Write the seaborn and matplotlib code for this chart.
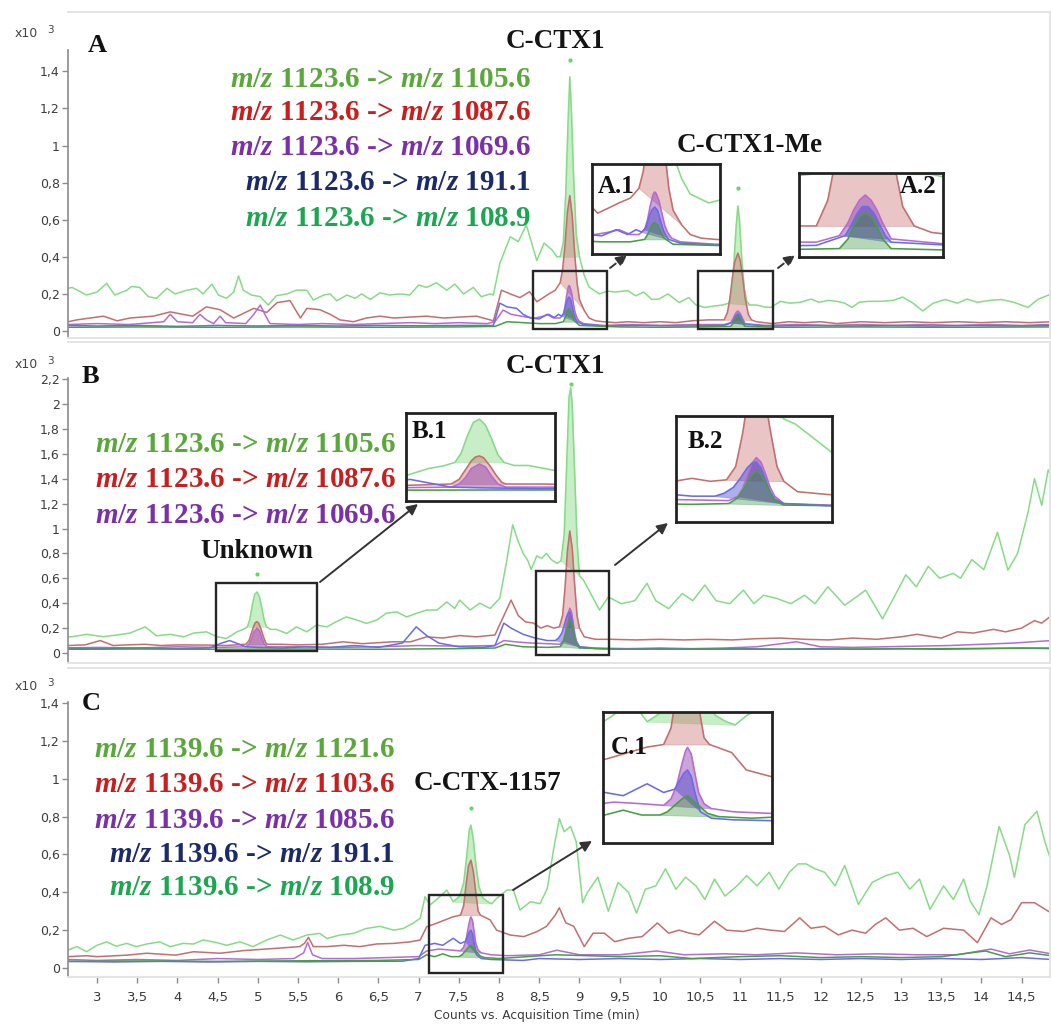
import numpy as np
import matplotlib
matplotlib.use("Agg")
import matplotlib.pyplot as plt
from matplotlib.patches import Rectangle
import seaborn as sns

# ----------------------------------------------------------------- data
# (time [min], counts x10^3)
A_lg = [(2.64,0.23),(2.69,0.235),(2.87,0.194),(3.00,0.21),(3.12,0.257),(3.22,0.194),(3.37,0.22),(3.43,0.24),
        (3.53,0.235),(3.64,0.185),(3.74,0.176),(3.87,0.23),(3.97,0.20),(4.12,0.22),(4.24,0.23),(4.32,0.20),
        (4.43,0.253),(4.51,0.194),(4.61,0.176),(4.70,0.21),(4.76,0.297),(4.82,0.22),(4.92,0.194),(5.03,0.185),
        (5.13,0.14),(5.23,0.19),(5.36,0.20),(5.48,0.22),(5.61,0.22),(5.69,0.167),(5.82,0.194),(5.90,0.20),
        (5.98,0.163),(6.11,0.194),(6.21,0.176),(6.29,0.20),(6.40,0.17),(6.52,0.206),(6.64,0.194),(6.77,0.20),
        (6.89,0.194),(7.00,0.248),(7.10,0.235),(7.22,0.26),(7.35,0.22),(7.45,0.253),(7.56,0.20),(7.68,0.235),
        (7.78,0.185),(7.89,0.20),(7.93,0.194),(8.01,0.365),(8.14,0.508),(8.24,0.482),(8.34,0.571),(8.47,0.38),
        (8.56,0.474),(8.66,0.437),(8.72,0.40),(8.76,0.40),(8.80,0.48),(8.83,0.75),(8.86,1.15),(8.88,1.37),
        (8.90,1.18),(8.93,0.80),(8.96,0.52),(9.00,0.40),(9.06,0.30),(9.12,0.237),(9.25,0.20),(9.35,0.215),
        (9.45,0.21),(9.60,0.218),(9.70,0.19),(9.80,0.21),(9.90,0.17),(9.99,0.172),(10.10,0.20),(10.24,0.154),
        (10.36,0.18),(10.45,0.14),(10.56,0.127),(10.68,0.135),(10.78,0.14),(10.86,0.15),(10.89,0.21),(10.92,0.36),
        (10.95,0.57),(10.97,0.674),(10.99,0.60),(11.02,0.38),(11.05,0.23),(11.08,0.16),(11.12,0.14),(11.20,0.14),
        (11.30,0.13),(11.38,0.127),(11.50,0.16),(11.62,0.15),(11.75,0.155),(11.88,0.172),(11.98,0.155),(12.10,0.165),
        (12.20,0.16),(12.30,0.15),(12.39,0.127),(12.48,0.155),(12.60,0.16),(12.75,0.16),(12.90,0.165),(13.02,0.183),
        (13.15,0.15),(13.27,0.108),(13.40,0.15),(13.55,0.17),(13.70,0.15),(13.82,0.172),(13.95,0.155),(14.10,0.165),
        (14.25,0.17),(14.40,0.155),(14.58,0.127),(14.70,0.17),(14.87,0.20)]
A_rd = [(2.64,0.05),(2.75,0.06),(3.08,0.08),(3.25,0.055),(3.41,0.07),(3.70,0.08),(3.91,0.103),(4.19,0.08),
        (4.36,0.13),(4.53,0.115),(4.70,0.07),(4.95,0.122),(5.11,0.10),(5.24,0.153),(5.40,0.164),(5.53,0.07),
        (5.61,0.122),(5.77,0.115),(5.90,0.09),(6.02,0.06),(6.19,0.05),(6.35,0.07),(6.52,0.08),(6.69,0.07),
        (6.89,0.075),(7.10,0.08),(7.31,0.07),(7.51,0.075),(7.72,0.08),(7.93,0.055),(8.03,0.22),(8.14,0.20),
        (8.26,0.18),(8.38,0.212),(8.47,0.158),(8.55,0.18),(8.62,0.20),(8.70,0.22),(8.76,0.26),(8.79,0.33),
        (8.82,0.46),(8.85,0.64),(8.88,0.73),(8.91,0.62),(8.94,0.42),(8.97,0.26),(9.00,0.17),(9.06,0.11),
        (9.12,0.07),(9.20,0.055),(9.30,0.05),(9.45,0.045),(9.60,0.05),(9.80,0.045),(10.00,0.05),(10.20,0.045),
        (10.40,0.055),(10.60,0.06),(10.75,0.06),(10.80,0.06),(10.84,0.10),(10.87,0.17),(10.90,0.28),(10.93,0.37),
        (10.97,0.42),(11.00,0.38),(11.03,0.29),(11.06,0.18),(11.10,0.09),(11.14,0.06),(11.20,0.05),(11.40,0.04),
        (11.60,0.05),(11.80,0.045),(12.00,0.05),(12.20,0.04),(12.50,0.05),(12.80,0.045),(13.10,0.05),(13.40,0.045),
        (13.70,0.05),(14.00,0.045),(14.30,0.05),(14.60,0.045),(14.87,0.05)]
A_pu = [(2.64,0.035),(3.0,0.04),(3.4,0.035),(3.83,0.05),(3.91,0.09),(4.0,0.05),(4.19,0.045),(4.28,0.09),
        (4.36,0.06),(4.45,0.04),(4.53,0.08),(4.60,0.045),(4.85,0.04),(4.95,0.09),(5.03,0.14),(5.10,0.08),
        (5.15,0.04),(5.5,0.035),(5.8,0.04),(6.2,0.035),(6.5,0.04),(6.9,0.045),(7.2,0.04),(7.5,0.045),
        (7.85,0.04),(7.95,0.05),(8.05,0.113),(8.15,0.09),(8.34,0.075),(8.45,0.07),(8.55,0.08),(8.62,0.09),
        (8.70,0.07),(8.76,0.07),(8.80,0.09),(8.82,0.13),(8.84,0.19),(8.86,0.235),(8.87,0.245),(8.88,0.24),
        (8.90,0.21),(8.92,0.16),(8.94,0.11),(8.96,0.08),(8.99,0.055),(9.05,0.04),(9.3,0.03),(9.6,0.035),
        (10.0,0.03),(10.4,0.035),(10.8,0.035),(10.88,0.045),(10.91,0.065),(10.93,0.085),(10.95,0.10),
        (10.97,0.108),(10.99,0.10),(11.01,0.085),(11.03,0.065),(11.06,0.04),(11.3,0.03),(11.7,0.035),
        (12.1,0.03),(12.5,0.035),(12.9,0.03),(13.3,0.035),(13.7,0.03),(14.1,0.035),(14.5,0.03),(14.87,0.035)]
A_bl = [(2.64,0.03),(3.0,0.027),(3.5,0.03),(4.0,0.025),(4.5,0.03),(5.0,0.027),(5.5,0.03),(6.0,0.027),
        (6.5,0.03),(7.0,0.028),(7.5,0.03),(7.93,0.03),(8.01,0.15),(8.10,0.13),(8.22,0.122),(8.30,0.09),
        (8.39,0.07),(8.50,0.065),(8.60,0.09),(8.68,0.07),(8.74,0.09),(8.78,0.08),(8.81,0.10),(8.83,0.14),
        (8.85,0.17),(8.87,0.183),(8.89,0.17),(8.91,0.13),(8.93,0.09),(8.95,0.065),(8.97,0.05),(9.05,0.035),
        (9.3,0.027),(9.8,0.03),(10.3,0.027),(10.8,0.03),(10.90,0.045),(10.92,0.06),(10.94,0.078),(10.96,0.09),
        (10.98,0.09),(11.00,0.08),(11.02,0.062),(11.04,0.045),(11.06,0.035),(11.4,0.027),(11.9,0.03),
        (12.4,0.027),(12.9,0.03),(13.4,0.027),(13.9,0.03),(14.4,0.027),(14.87,0.03)]
A_dg = [(2.64,0.02),(3.5,0.022),(4.5,0.02),(5.5,0.022),(6.5,0.02),(7.5,0.022),(7.95,0.025),(8.10,0.05),
        (8.30,0.045),(8.50,0.04),(8.70,0.04),(8.80,0.05),(8.83,0.08),(8.85,0.11),(8.87,0.12),(8.89,0.11),
        (8.91,0.085),(8.93,0.06),(8.95,0.05),(9.00,0.03),(9.5,0.022),(10.0,0.02),(10.5,0.022),(10.88,0.025),
        (10.91,0.04),(10.93,0.06),(10.95,0.075),(10.97,0.08),(10.99,0.075),(11.01,0.06),(11.03,0.04),
        (11.06,0.025),(11.5,0.02),(12.5,0.022),(13.5,0.02),(14.87,0.022)]

B_lg = [(2.64,0.13),(2.69,0.131),(2.87,0.15),(3.08,0.131),(3.25,0.145),(3.41,0.16),(3.60,0.21),(3.74,0.138),
        (3.91,0.15),(4.08,0.13),(4.20,0.16),(4.36,0.17),(4.49,0.131),(4.61,0.117),(4.74,0.17),(4.82,0.19),
        (4.87,0.21),(4.90,0.27),(4.93,0.38),(4.96,0.47),(4.99,0.49),(5.02,0.45),(5.05,0.36),(5.08,0.26),
        (5.11,0.21),(5.16,0.19),(5.23,0.19),(5.36,0.157),(5.48,0.21),(5.61,0.17),(5.73,0.225),(5.86,0.21),
        (5.98,0.253),(6.10,0.29),(6.23,0.265),(6.35,0.238),(6.48,0.265),(6.60,0.32),(6.73,0.33),(6.85,0.29),
        (6.98,0.32),(7.10,0.345),(7.23,0.345),(7.35,0.41),(7.45,0.358),(7.51,0.425),(7.64,0.345),(7.76,0.40),
        (7.89,0.358),(8.01,0.44),(8.09,0.72),(8.17,1.03),(8.23,0.91),(8.30,0.80),(8.36,0.74),(8.40,0.67),
        (8.47,0.78),(8.53,0.76),(8.59,0.80),(8.65,0.75),(8.72,0.72),(8.77,0.74),(8.81,0.95),(8.84,1.5),
        (8.87,2.05),(8.89,2.13),(8.91,2.0),(8.94,1.45),(8.97,0.9),(9.00,0.62),(9.05,0.586),(9.14,0.478),
        (9.25,0.345),(9.36,0.45),(9.52,0.396),(9.69,0.42),(9.84,0.56),(9.95,0.42),(10.11,0.356),(10.28,0.478),
        (10.41,0.42),(10.56,0.546),(10.70,0.42),(10.87,0.396),(11.04,0.505),(11.17,0.396),(11.29,0.464),
        (11.46,0.437),(11.63,0.396),(11.80,0.464),(11.93,0.396),(12.09,0.532),(12.30,0.383),(12.56,0.505),
        (12.77,0.274),(12.89,0.42),(13.06,0.628),(13.19,0.532),(13.34,0.696),(13.48,0.60),(13.65,0.64),
        (13.74,0.60),(13.88,0.75),(14.03,0.67),(14.20,0.97),(14.33,0.665),(14.45,0.80),(14.58,1.13),
        (14.66,1.40),(14.75,1.185),(14.83,1.47),(14.87,1.42)]
B_rd = [(2.64,0.06),(2.85,0.065),(3.04,0.10),(3.20,0.06),(3.37,0.065),(3.60,0.07),(3.80,0.06),(4.00,0.065),
        (4.36,0.064),(4.60,0.06),(4.85,0.07),(4.89,0.10),(4.92,0.16),(4.95,0.22),(4.97,0.245),(4.99,0.252),
        (5.01,0.24),(5.04,0.19),(5.07,0.13),(5.10,0.08),(5.12,0.07),(5.30,0.07),(5.50,0.065),(5.80,0.07),
        (6.06,0.09),(6.30,0.075),(6.68,0.09),(6.90,0.09),(7.10,0.13),(7.30,0.12),(7.51,0.14),(7.72,0.13),
        (7.95,0.145),(8.06,0.30),(8.15,0.425),(8.24,0.30),(8.33,0.25),(8.43,0.24),(8.52,0.20),(8.60,0.22),
        (8.68,0.20),(8.75,0.21),(8.79,0.30),(8.82,0.52),(8.85,0.82),(8.88,0.98),(8.91,0.84),(8.94,0.55),
        (8.97,0.30),(9.00,0.20),(9.06,0.13),(9.20,0.11),(9.40,0.11),(9.70,0.105),(10.00,0.11),(10.30,0.105),
        (10.60,0.11),(10.90,0.105),(11.20,0.115),(11.50,0.12),(11.80,0.11),(12.10,0.105),(12.40,0.12),
        (12.70,0.11),(13.00,0.13),(13.20,0.15),(13.50,0.12),(13.70,0.17),(13.90,0.16),(14.15,0.19),
        (14.30,0.17),(14.50,0.20),(14.66,0.26),(14.75,0.24),(14.87,0.30)]
B_pu = [(2.64,0.04),(3.0,0.045),(3.5,0.04),(4.0,0.05),(4.5,0.045),(4.85,0.05),(4.89,0.07),(4.92,0.11),
        (4.95,0.17),(4.99,0.20),(5.02,0.18),(5.05,0.12),(5.08,0.07),(5.12,0.05),(5.5,0.05),(6.0,0.045),
        (6.5,0.05),(7.0,0.06),(7.5,0.055),(7.95,0.06),(8.06,0.10),(8.2,0.09),(8.4,0.08),(8.6,0.075),
        (8.76,0.07),(8.80,0.10),(8.82,0.15),(8.84,0.23),(8.86,0.32),(8.88,0.36),(8.90,0.33),(8.92,0.25),
        (8.94,0.16),(8.96,0.10),(9.00,0.05),(9.2,0.04),(9.6,0.035),(10.0,0.04),(10.4,0.035),(10.8,0.04),
        (11.2,0.05),(11.7,0.09),(12.0,0.05),(12.4,0.045),(12.8,0.05),(13.2,0.055),(13.6,0.06),(14.0,0.07),
        (14.4,0.08),(14.87,0.10)]
B_bl = [(2.64,0.04),(3.0,0.035),(3.5,0.04),(4.0,0.035),(4.4,0.04),(4.55,0.08),(4.65,0.10),(4.75,0.075),
        (4.85,0.05),(5.0,0.045),(5.3,0.04),(5.6,0.05),(5.9,0.045),(6.2,0.06),(6.5,0.045),(6.8,0.08),
        (6.97,0.21),(7.1,0.14),(7.25,0.08),(7.5,0.05),(7.8,0.045),(7.95,0.06),(8.06,0.24),(8.15,0.20),
        (8.3,0.15),(8.45,0.12),(8.6,0.10),(8.70,0.10),(8.74,0.12),(8.78,0.16),(8.81,0.22),(8.84,0.29),
        (8.86,0.32),(8.88,0.33),(8.90,0.29),(8.92,0.21),(8.94,0.13),(8.96,0.08),(9.00,0.05),(9.2,0.035),
        (9.6,0.03),(10.0,0.035),(10.5,0.03),(11.0,0.035),(11.5,0.03),(12.0,0.035),(12.5,0.03),(13.0,0.035),
        (13.5,0.03),(14.0,0.035),(14.5,0.04),(14.87,0.035)]
B_dg = [(2.64,0.03),(3.5,0.032),(4.5,0.03),(5.5,0.032),(6.5,0.03),(7.5,0.035),(7.95,0.04),(8.08,0.07),
        (8.3,0.05),(8.6,0.045),(8.76,0.05),(8.80,0.09),(8.83,0.16),(8.86,0.24),(8.88,0.27),(8.90,0.25),
        (8.92,0.19),(8.94,0.12),(8.96,0.07),(9.00,0.04),(9.5,0.03),(10.5,0.032),(11.5,0.03),(12.5,0.032),
        (13.5,0.035),(14.87,0.04)]

C_lg = [(2.64,0.095),(2.75,0.113),(2.87,0.086),(3.00,0.12),(3.12,0.138),(3.24,0.115),(3.37,0.13),(3.49,0.113),
        (3.62,0.127),(3.78,0.138),(3.91,0.113),(4.07,0.13),(4.20,0.127),(4.32,0.148),(4.49,0.134),(4.61,0.12),
        (4.78,0.138),(4.94,0.113),(5.11,0.148),(5.28,0.174),(5.44,0.148),(5.61,0.174),(5.77,0.183),(5.86,0.156),
        (6.02,0.174),(6.19,0.183),(6.35,0.209),(6.52,0.22),(6.69,0.20),(6.81,0.209),(6.93,0.236),(7.02,0.263),
        (7.08,0.377),(7.14,0.333),(7.22,0.36),(7.35,0.412),(7.43,0.35),(7.51,0.38),(7.56,0.45),(7.60,0.60),
        (7.63,0.73),(7.65,0.755),(7.68,0.68),(7.71,0.55),(7.75,0.43),(7.80,0.37),(7.86,0.35),(7.91,0.34),
        (7.97,0.368),(8.10,0.412),(8.18,0.412),(8.26,0.306),(8.39,0.35),(8.51,0.34),(8.60,0.42),(8.68,0.63),
        (8.75,0.79),(8.81,0.72),(8.89,0.748),(8.96,0.667),(9.04,0.345),(9.10,0.40),(9.23,0.48),(9.36,0.30),
        (9.48,0.452),(9.61,0.40),(9.71,0.29),(9.82,0.416),(9.95,0.434),(10.07,0.524),(10.20,0.416),(10.32,0.48),
        (10.45,0.434),(10.56,0.362),(10.68,0.47),(10.81,0.38),(10.96,0.434),(11.08,0.488),(11.21,0.434),
        (11.36,0.506),(11.48,0.416),(11.61,0.506),(11.72,0.55),(11.82,0.55),(11.93,0.524),(12.05,0.506),
        (12.18,0.434),(12.30,0.542),(12.47,0.336),(12.64,0.452),(12.81,0.488),(12.96,0.506),(13.11,0.416),
        (13.23,0.47),(13.36,0.31),(13.53,0.434),(13.65,0.362),(13.78,0.47),(13.86,0.354),(13.97,0.282),
        (14.07,0.434),(14.22,0.748),(14.35,0.595),(14.41,0.479),(14.54,0.757),(14.69,0.828),(14.79,0.667),
        (14.87,0.56)]
C_rd = [(2.64,0.06),(2.87,0.065),(3.00,0.06),(3.37,0.068),(3.62,0.078),(3.98,0.068),(4.20,0.086),(4.53,0.078),
        (4.82,0.092),(5.23,0.104),(5.52,0.113),(5.58,0.13),(5.63,0.162),(5.69,0.113),(5.86,0.113),(6.07,0.12),
        (6.27,0.113),(6.48,0.127),(6.69,0.13),(6.89,0.138),(7.02,0.148),(7.10,0.218),(7.22,0.236),(7.43,0.271),
        (7.52,0.279),(7.56,0.33),(7.59,0.44),(7.62,0.54),(7.65,0.57),(7.68,0.51),(7.71,0.40),(7.74,0.30),
        (7.77,0.279),(7.89,0.254),(7.97,0.20),(8.14,0.174),(8.31,0.166),(8.47,0.192),(8.59,0.22),(8.70,0.28),
        (8.75,0.318),(8.83,0.239),(8.93,0.22),(9.06,0.113),(9.17,0.184),(9.31,0.184),(9.44,0.139),(9.61,0.157),
        (9.78,0.166),(9.97,0.238),(10.11,0.184),(10.24,0.20),(10.37,0.184),(10.49,0.175),(10.68,0.247),
        (10.83,0.20),(11.04,0.193),(11.21,0.21),(11.38,0.20),(11.55,0.193),(11.74,0.265),(11.88,0.21),
        (12.05,0.22),(12.22,0.175),(12.39,0.20),(12.56,0.184),(12.68,0.23),(12.81,0.265),(12.98,0.20),
        (13.15,0.21),(13.32,0.166),(13.53,0.21),(13.78,0.20),(13.95,0.134),(14.12,0.265),(14.25,0.23),
        (14.37,0.256),(14.50,0.345),(14.66,0.345),(14.87,0.29)]
C_pu = [(2.64,0.045),(3.0,0.04),(3.5,0.045),(4.0,0.04),(4.5,0.05),(5.0,0.045),(5.45,0.05),(5.57,0.08),
        (5.62,0.135),(5.68,0.07),(5.8,0.05),(6.2,0.05),(6.6,0.055),(7.0,0.06),(7.1,0.09),(7.25,0.10),
        (7.4,0.095),(7.52,0.09),(7.56,0.11),(7.59,0.15),(7.62,0.22),(7.64,0.26),(7.65,0.27),(7.67,0.25),
        (7.69,0.19),(7.71,0.13),(7.74,0.095),(7.78,0.08),(7.9,0.07),(8.1,0.065),(8.5,0.07),(8.72,0.094),
        (9.0,0.07),(9.5,0.07),(9.96,0.09),(10.3,0.07),(10.8,0.075),(11.2,0.07),(11.7,0.08),(12.2,0.07),
        (12.7,0.075),(13.2,0.07),(13.7,0.07),(14.12,0.10),(14.35,0.075),(14.6,0.095),(14.87,0.075)]
C_bl = [(2.64,0.035),(3.2,0.032),(3.8,0.035),(4.4,0.032),(5.0,0.035),(5.6,0.033),(6.2,0.035),(6.8,0.036),
        (7.0,0.05),(7.08,0.12),(7.2,0.13),(7.3,0.12),(7.43,0.157),(7.52,0.13),(7.58,0.14),(7.61,0.17),
        (7.63,0.19),(7.65,0.20),(7.67,0.18),(7.69,0.13),(7.72,0.07),(7.78,0.05),(7.9,0.045),(8.3,0.04),
        (8.5,0.05),(9.0,0.045),(9.5,0.05),(10.0,0.045),(10.5,0.05),(11.0,0.045),(11.5,0.05),(12.0,0.045),
        (12.5,0.05),(13.0,0.045),(13.5,0.05),(14.0,0.045),(14.5,0.055),(14.87,0.045)]
C_dg = [(2.64,0.035),(3.5,0.037),(4.5,0.035),(5.5,0.038),(6.5,0.04),(7.0,0.045),(7.1,0.07),(7.2,0.06),
        (7.3,0.075),(7.4,0.06),(7.5,0.06),(7.54,0.07),(7.58,0.09),(7.62,0.11),(7.65,0.12),(7.68,0.105),
        (7.72,0.085),(7.76,0.065),(7.82,0.055),(8.0,0.05),(8.7,0.07),(9.5,0.06),(10.0,0.065),(10.4,0.05),
        (11.0,0.06),(11.5,0.065),(12.0,0.055),(12.5,0.06),(13.0,0.055),(13.5,0.06),(14.05,0.09),(14.3,0.06),
        (14.6,0.08),(14.87,0.065)]

# integrated peak windows (min)
A_fill = {'lg': [(8.76, 9.00), (10.86, 11.12)], 'rd': [(8.76, 9.06), (10.80, 11.14)],
          'pu': [(8.80, 8.99), (10.88, 11.06)], 'bl': [(8.78, 8.97), (10.90, 11.06)],
          'dg': [(8.80, 8.95), (10.88, 11.06)]}
B_fill = {'lg': [(4.87, 5.11), (8.77, 9.00)], 'rd': [(4.85, 5.12), (8.75, 9.00)],
          'pu': [(4.85, 5.12), (8.80, 9.00)], 'bl': [(8.70, 9.00)], 'dg': [(8.76, 9.00)]}
C_fill = {'lg': [(7.43, 7.91)], 'rd': [(7.52, 7.77)], 'pu': [(7.52, 7.78)],
          'bl': [(7.58, 7.72)], 'dg': [(7.50, 7.82)]}

# apex markers
A_dots = [(8.88, 1.46), (10.97, 0.77)]
B_dots = [(4.99, 0.635), (8.89, 2.16)]
C_dots = [(7.65, 0.845)]

# zoom boxes (t0, t1, y0, y1) on the main traces and the views shown in the insets
A_boxes = [(8.42, 9.34, 0.011, 0.323), (10.475, 11.41, 0.011, 0.323)]
B_boxes = [(4.48, 5.74, 0.016, 0.562), (8.46, 9.37, -0.016, 0.659)]
C_boxes = [(7.13, 8.05, -0.026, 0.386)]
A_views = [(8.43, 9.33, -0.01, 0.36), (10.74, 11.24, 0.012, 0.142)]
B_views = [(4.63, 5.36, -0.04, 0.53), (8.53, 9.21, -0.074, 0.64)]
C_views = [(7.19, 8.11, -0.027, 0.38)]
inset_names = [['A.1', 'A.2'], ['B.1', 'B.2'], ['C.1']]

A_legend = [("1123.6", "1105.6"), ("1123.6", "1087.6"), ("1123.6", "1069.6"), ("1123.6", "191.1"), ("1123.6", "108.9")]
B_legend = [("1123.6", "1105.6"), ("1123.6", "1087.6"), ("1123.6", "1069.6")]
C_legend = [("1139.6", "1121.6"), ("1139.6", "1103.6"), ("1139.6", "1085.6"), ("1139.6", "191.1"), ("1139.6", "108.9")]
peak_names = [["C-CTX1", "C-CTX1-Me"], ["C-CTX1", "Unknown"], ["C-CTX-1157"]]
panel_letters = ["A", "B", "C"]

A_yticks = [0, 0.2, 0.4, 0.6, 0.8, 1.0, 1.2, 1.4]
A_yticklabels = ['0', '0,2', '0,4', '0,6', '0,8', '1', '1,2', '1,4']
B_yticks = [0, 0.2, 0.4, 0.6, 0.8, 1.0, 1.2, 1.4, 1.6, 1.8, 2.0, 2.2]
B_yticklabels = ['0', '0,2', '0,4', '0,6', '0,8', '1', '1,2', '1,4', '1,6', '1,8', '2', '2,2']
C_yticks = A_yticks
C_yticklabels = A_yticklabels
x_ticks = [3, 3.5, 4, 4.5, 5, 5.5, 6, 6.5, 7, 7.5, 8, 8.5, 9, 9.5, 10, 10.5, 11, 11.5, 12, 12.5, 13, 13.5, 14, 14.5]
x_ticklabels = ['3', '3,5', '4', '4,5', '5', '5,5', '6', '6,5', '7', '7,5', '8', '8,5', '9', '9,5', '10',
                '10,5', '11', '11,5', '12', '12,5', '13', '13,5', '14', '14,5']
x_label = "Counts vs. Acquisition Time (min)"

# ----------------------------------------------------------------- style
sns.set_theme(style="white")
plt.rcParams['font.family'] = ['DejaVu Sans']
plt.rcParams['mathtext.fontset'] = 'custom'
plt.rcParams['mathtext.rm'] = 'Liberation Serif:bold'
plt.rcParams['mathtext.bf'] = 'Liberation Serif:bold'
plt.rcParams['mathtext.it'] = 'Liberation Serif:italic:bold'

W, H = 1051, 1024
ORDER = ['lg', 'rd', 'pu', 'bl', 'dg']
LINE_COL = {'lg': '#86dc86', 'rd': '#c46e6e', 'pu': '#b86ad2', 'bl': '#6a6af0', 'dg': '#44a044'}
FILL_COL = {'lg': '#62d062', 'rd': '#c05a5a', 'pu': '#8a3aaa', 'bl': '#3838c4', 'dg': '#2e8e2e'}
FILL_A = {'lg': 0.35, 'rd': 0.35, 'pu': 0.45, 'bl': 0.40, 'dg': 0.35}
LEG_COL = ['#5aa83a', '#c81e1e', '#7b2fa8', '#1b2a6b', '#1ba650']
SERIF = 'Liberation Serif'

fig = plt.figure(figsize=(W / 100, H / 100), dpi=100)


def fx(px):
    return px / W


def fy(py):
    return 1 - py / H


def draw_traces(ax, traces, fills, lw):
    for k in ORDER:
        t, y = map(np.array, zip(*traces[k]))
        sns.lineplot(x=t, y=y, ax=ax, color=LINE_COL[k], linewidth=lw, estimator=None,
                     sort=False, legend=False, solid_joinstyle='round')
        for a, b in fills.get(k, []):
            m = (t >= a - 1e-9) & (t <= b + 1e-9)
            tt, yy = t[m], y[m]
            base = np.interp(tt, [tt[0], tt[-1]], [yy[0], yy[-1]])
            ax.fill_between(tt, yy, base, color=FILL_COL[k], alpha=FILL_A[k], lw=0.6,
                            edgecolor=LINE_COL[k])


panels = [
    dict(tr={'lg': A_lg, 'rd': A_rd, 'pu': A_pu, 'bl': A_bl, 'dg': A_dg}, fill=A_fill, dots=A_dots,
         top=12, bot=338, ylim=(-0.0377, 1.7197), spine=(-0.035, 1.515),
         yt=A_yticks, ytl=A_yticklabels, boxes=A_boxes, views=A_views,
         ipx=[(592, 164, 720, 254), (799, 173, 943, 257)],
         ilab=[(598, 193, 'left'), (937, 193, 'right')],
         leg=A_legend, leg_x=531, leg_y=[87, 120, 155, 190, 226],
         pk=[(555, 48), (750, 152)], letter=(88, 52), x10=37,
         arrows=[((610, 268), (627, 255), '--'), ((778, 268), (795, 255), '--')]),
    dict(tr={'lg': B_lg, 'rd': B_rd, 'pu': B_pu, 'bl': B_bl, 'dg': B_dg}, fill=B_fill, dots=B_dots,
         top=342, bot=663, ylim=(-0.0803, 2.498), spine=(-0.075, 2.205),
         yt=B_yticks, ytl=B_yticklabels, boxes=B_boxes, views=B_views,
         ipx=[(406, 413, 555, 501), (676, 416, 832, 522)],
         ilab=[(412, 438, 'left'), (688, 448, 'left')],
         leg=B_legend, leg_x=396, leg_y=[452, 487, 523],
         pk=[(555, 373), (257, 558)], letter=(82, 383), x10=368,
         arrows=[((320, 582), (418, 504), '-'), ((615, 565), (668, 523), '-')]),
    dict(tr={'lg': C_lg, 'rd': C_rd, 'pu': C_pu, 'bl': C_bl, 'dg': C_dg}, fill=C_fill, dots=C_dots,
         top=668, bot=977, ylim=(-0.0475, 1.585), spine=(-0.045, 1.405),
         yt=C_yticks, ytl=C_yticklabels, boxes=C_boxes, views=C_views,
         ipx=[(603, 712, 772, 843)],
         ilab=[(611, 754, 'left')],
         leg=C_legend, leg_x=395, leg_y=[757, 792, 828, 862, 895],
         pk=[(487, 790)], letter=(82, 710), x10=690,
         arrows=[((513, 890), (592, 841), '-')]),
]

XL = (2.639, 14.853)
for pi, P in enumerate(panels):
    ax = fig.add_axes([fx(68), fy(P['bot']), (1050 - 68) / W, (P['bot'] - P['top']) / H])
    ax.set_facecolor('white')
    draw_traces(ax, P['tr'], P['fill'], 1.1)
    dt, dy = zip(*P['dots'])
    sns.scatterplot(x=list(dt), y=list(dy), ax=ax, color='#5fdc5f', s=9, linewidth=0, legend=False, zorder=6)
    for (t0, t1, y0, y1) in P['boxes']:
        ax.add_patch(Rectangle((t0, y0), t1 - t0, y1 - y0, fill=False, edgecolor='#262626', lw=1.7, zorder=7))
    ax.set_xlim(*XL)
    ax.set_ylim(*P['ylim'])
    ax.set_xlabel('')
    ax.set_ylabel('')
    for s in ['top', 'right', 'bottom']:
        ax.spines[s].set_color('#e4e4e4')
        ax.spines[s].set_linewidth(1.4)
    ax.spines['left'].set_color('#8c8c8c')
    ax.spines['left'].set_linewidth(1.2)
    ax.spines['left'].set_bounds(*P['spine'])
    ax.set_yticks(P['yt'])
    ax.set_yticklabels(P['ytl'])
    ax.tick_params(axis='y', direction='out', length=4, width=1, color='#8c8c8c',
                   labelsize=9, labelcolor='#3c3c3c', pad=2, left=True)
    if pi < 2:
        ax.set_xticks([])
    else:
        ax.set_xticks(x_ticks)
        ax.set_xticklabels(x_ticklabels)
        ax.tick_params(axis='x', direction='out', length=4, width=1, color='#8c8c8c',
                       labelsize=9.5, labelcolor='#3c3c3c', pad=6, bottom=True)

    # insets
    for (x0, y0, x1, y1), (v0, v1, w0, w1), (lx, ly, lha), name in zip(P['ipx'], P['views'], P['ilab'],
                                                                     inset_names[pi]):
        iax = fig.add_axes([fx(x0), fy(y1), (x1 - x0) / W, (y1 - y0) / H], zorder=2)
        iax.set_facecolor('white')
        draw_traces(iax, P['tr'], P['fill'], 1.15)
        iax.set_xlim(v0, v1)
        iax.set_ylim(w0, w1)
        iax.set_xticks([])
        iax.set_yticks([])
        iax.set_xlabel('')
        iax.set_ylabel('')
        for s in iax.spines.values():
            s.set_color('#222222')
            s.set_linewidth(2.0)
        fig.text(fx(lx), fy(ly), name, ha=lha, va='baseline', family=SERIF, weight='bold',
                 fontsize=18, color='#111111', zorder=5)

    # legend text
    for (src, dst), col, yb in zip(P['leg'], LEG_COL, P['leg_y']):
        s = r"$\mathit{m/z}$ " + src + r" -> $\mathit{m/z}$ " + dst
        fig.text(fx(P['leg_x']), fy(yb), s, ha='right', va='baseline', color=col, fontsize=21,
                 family=SERIF, weight='bold')

    # compound labels
    for (px, py), name in zip(P['pk'], peak_names[pi]):
        fig.text(fx(px), fy(py), name, ha='center', va='baseline', family=SERIF, weight='bold',
                 fontsize=19.5, color='#141414')

    fig.text(fx(P['letter'][0]), fy(P['letter'][1]), panel_letters[pi], ha='left', va='baseline',
             family=SERIF, weight='bold', fontsize=19, color='#111111')
    fig.text(fx(15), fy(P['x10']), 'x10', ha='left', va='baseline', fontsize=9, color='#444444')
    fig.text(fx(47), fy(P['x10'] - 4), '3', ha='left', va='baseline', fontsize=7.5, color='#444444')

    for (p0, p1, ls) in P['arrows']:
        ax.annotate('', xy=(p1[0], H - p1[1]), xytext=(p0[0], H - p0[1]),
                    xycoords='figure pixels', textcoords='figure pixels', annotation_clip=False,
                    arrowprops=dict(arrowstyle='-|>', color='#333333', lw=1.4, ls=ls,
                                    mutation_scale=16, shrinkA=0, shrinkB=0))

fig.text(fx(537), fy(1019), x_label, ha='center', va='baseline', fontsize=8.8, color='#3c3c3c')

fig.savefig('out.png', dpi=100, facecolor='white')
